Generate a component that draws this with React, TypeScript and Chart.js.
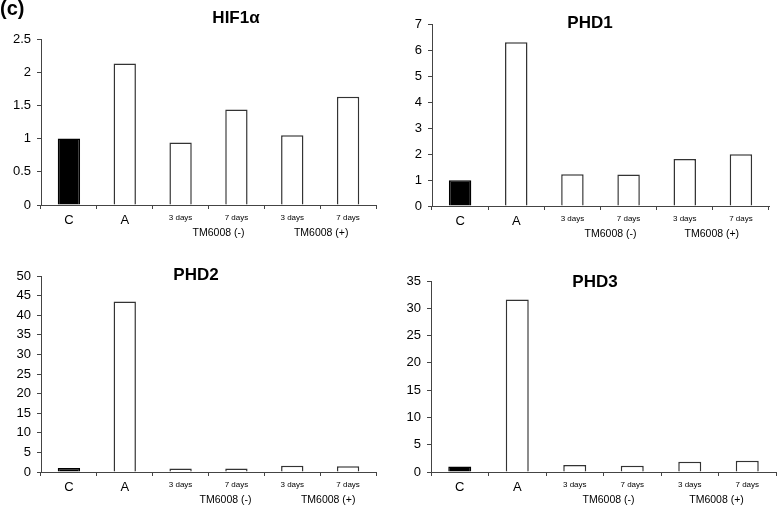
import React, { useEffect, useRef } from "react";
import { Chart, registerables } from "chart.js";

Chart.register(...registerables);

// ---------- data ----------
const categories = ["C", "A", "3 days", "7 days", "3 days", "7 days"];
const groupLabels = ["TM6008 (-)", "TM6008 (+)"];
const groupMembers = [
  [2, 3],
  [4, 5],
];
const hif1aValues = [1.0, 2.13, 0.94, 1.44, 1.05, 1.63];
const phd1Values = [0.99, 6.3, 1.22, 1.21, 1.81, 1.99];
const phd2Values = [1.0, 43.5, 0.9, 0.9, 1.6, 1.45];
const phd3Values = [1.0, 31.6, 1.28, 1.15, 1.9, 2.05];
const panelTitles = ["HIF1α", "PHD1", "PHD2", "PHD3"];
const yMaxes = [2.5, 7, 50, 35];
const ySteps = [0.5, 1, 5, 5];

// ---------- layout ----------
const FONT = "'Liberation Sans', Arial, Helvetica, sans-serif";

type Panel = {
  values: number[];
  title: string;
  yMax: number;
  yStep: number;
  left: number;
  top: number;
  width: number;
  height: number;
  padTop: number;
  padRight: number;
  yWidth: number;
  xHeight: number;
  titleX: number;
  titleY: number;
  groupDx: number[];
};

const panels: Panel[] = [
  {
    values: hif1aValues, title: panelTitles[0], yMax: yMaxes[0], yStep: ySteps[0],
    left: 0, top: 0, width: 388, height: 250,
    padTop: 39, padRight: 12, yWidth: 41, xHeight: 45,
    titleX: 236, titleY: 18, groupDx: [10, 1],
  },
  {
    values: phd1Values, title: panelTitles[1], yMax: yMaxes[1], yStep: ySteps[1],
    left: 390, top: 0, width: 387, height: 250,
    padTop: 24, padRight: 8, yWidth: 42, xHeight: 44,
    titleX: 200, titleY: 23, groupDx: [10, -1],
  },
  {
    values: phd2Values, title: panelTitles[2], yMax: yMaxes[2], yStep: ySteps[2],
    left: 0, top: 258, width: 388, height: 249,
    padTop: 18, padRight: 12, yWidth: 41, xHeight: 35,
    titleX: 196, titleY: 17, groupDx: [17, 8],
  },
  {
    values: phd3Values, title: panelTitles[3], yMax: yMaxes[3], yStep: ySteps[3],
    left: 390, top: 258, width: 387, height: 249,
    padTop: 23, padRight: 1, yWidth: 41, xHeight: 35,
    titleX: 205, titleY: 24, groupDx: [5, -2],
  },
];

const overlayPlugin = {
  id: "overlayText",
  afterDraw(chart: any, _args: any, opts: any) {
    const ctx = chart.ctx;
    const x = chart.scales.x;
    const area = chart.chartArea;
    ctx.save();
    // title
    ctx.fillStyle = "#000";
    ctx.font = `bold 17px ${FONT}`;
    ctx.textAlign = "center";
    ctx.textBaseline = "middle";
    ctx.fillText(opts.title, opts.titleX, opts.titleY);
    // group labels
    ctx.font = `10.5px ${FONT}`;
    groupLabels.forEach((lab, gi) => {
      const [a, b] = groupMembers[gi];
      const cx = (x.getPixelForValue(a) + x.getPixelForValue(b)) / 2 + (opts.groupDx[gi] || 0);
      ctx.fillText(lab, cx, area.bottom + 28.5);
    });
    ctx.restore();
  },
};

function PanelChart({ p }: { p: Panel }) {
  const ref = useRef<HTMLCanvasElement | null>(null);
  useEffect(() => {
    if (!ref.current) return;
    const chart = new Chart(ref.current, {
      type: "bar",
      data: {
        labels: categories,
        datasets: [
          {
            data: p.values,
            backgroundColor: p.values.map((_, i) => (i === 0 ? "#000000" : "#ffffff")),
            borderColor: p.values.map((_, i) => (i === 0 ? "#000000" : "#333333")),
            borderWidth: 1.5,
            barPercentage: 0.4,
            categoryPercentage: 1,
          },
        ],
      },
      options: {
        responsive: false,
        animation: false,
        devicePixelRatio: 1,
        layout: { padding: { top: p.padTop, right: p.padRight, left: 0, bottom: 0 } },
        plugins: {
          legend: { display: false },
          tooltip: { enabled: false },
          title: { display: false },
          overlayText: { title: p.title, titleX: p.titleX, titleY: p.titleY, groupDx: p.groupDx },
        } as any,
        scales: {
          x: {
            grid: {
              display: true,
              drawOnChartArea: false,
              drawTicks: true,
              tickLength: 4,
              color: "#444",
              offset: true,
            },
            border: { display: true, color: "#444", width: 1 },
            ticks: {
              color: "#000",
              padding: 4,
              autoSkip: false,
              maxRotation: 0,
              font: (ctx: any) => ({ family: FONT, size: ctx.index < 2 ? 13 : 8 }),
            },
            afterFit: (axis: any) => {
              axis.height = p.xHeight;
            },
          },
          y: {
            min: 0,
            max: p.yMax,
            grid: {
              display: true,
              drawOnChartArea: false,
              drawTicks: true,
              tickLength: 4,
              color: "#444",
            },
            border: { display: true, color: "#444", width: 1 },
            ticks: {
              stepSize: p.yStep,
              color: "#000",
              padding: 6,
              font: { family: FONT, size: 13 },
              callback: (v: any) => String(Math.round(Number(v) * 100) / 100),
            },
            afterFit: (axis: any) => {
              axis.width = p.yWidth;
            },
          },
        },
      },
      plugins: [overlayPlugin],
    });
    return () => chart.destroy();
  }, [p]);
  return (
    <canvas
      ref={ref}
      width={p.width}
      height={p.height}
      style={{ position: "absolute", left: p.left, top: p.top, width: p.width, height: p.height }}
    />
  );
}

export default function App() {
  return (
    <div style={{ position: "absolute", left: 0, top: 0, width: 777, height: 507, background: "#fff", overflow: "hidden" }}>
      {panels.map((p, i) => (
        <PanelChart key={i} p={p} />
      ))}
      <div
        style={{
          position: "absolute",
          left: 0,
          top: -5,
          fontFamily: FONT,
          fontWeight: "bold",
          fontSize: 20,
          lineHeight: "26px",
          color: "#000",
        }}
      >
        (c)
      </div>
    </div>
  );
}
